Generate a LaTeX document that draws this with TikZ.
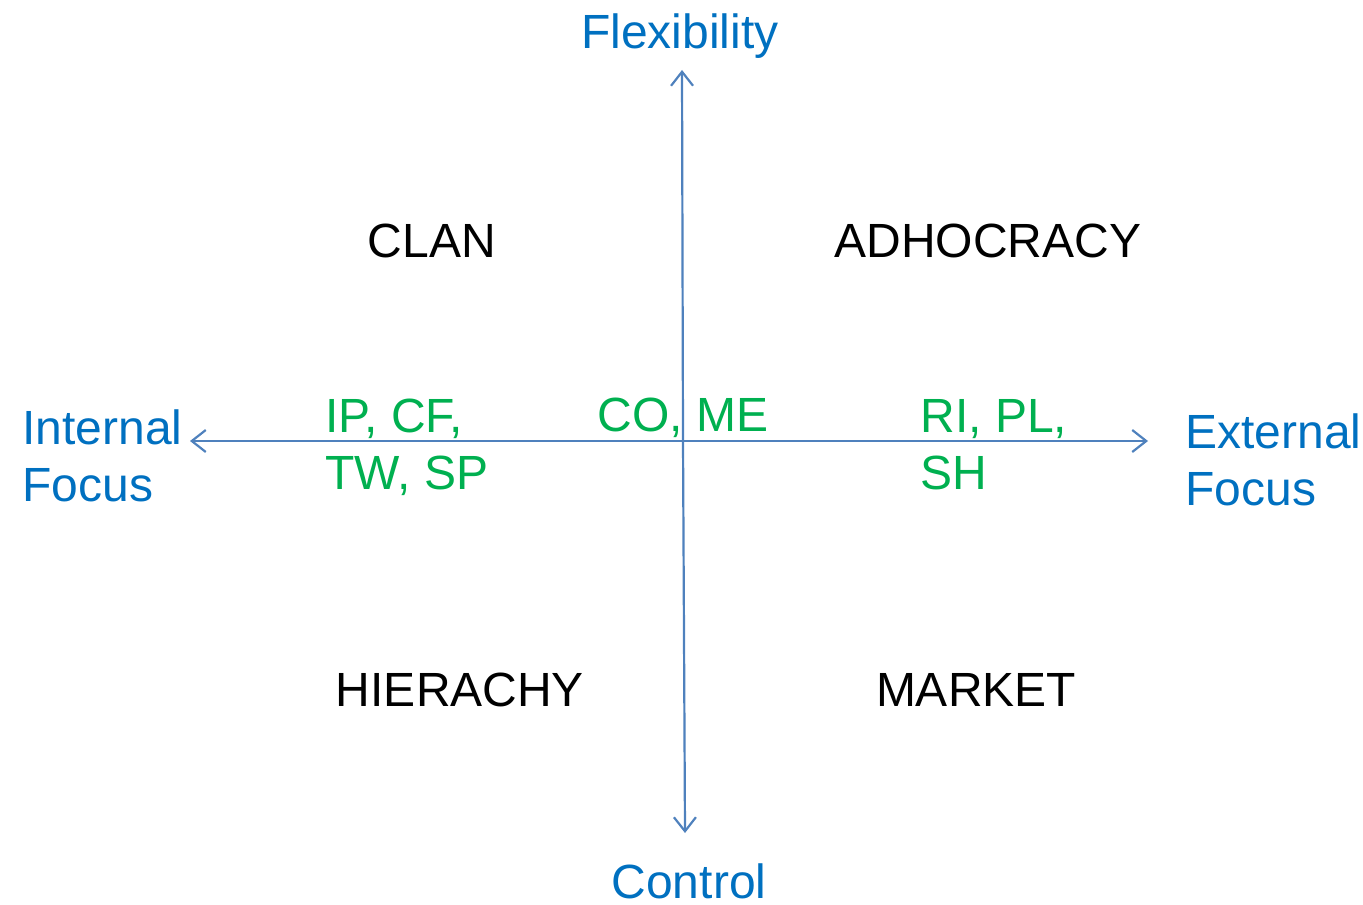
\documentclass[tikz,border=0pt]{standalone}
\usepackage{fontspec}
\setmainfont{Liberation Sans}
\usetikzlibrary{arrows.meta}
\definecolor{axisblue}{RGB}{79,129,189}
\definecolor{labelblue}{RGB}{0,112,192}
\definecolor{codegreen}{RGB}{0,176,80}
\begin{document}
\begin{tikzpicture}[x=0.5pt,y=-0.5pt,
    font=\fontsize{24}{28.5}\selectfont,
    axis/.style={axisblue, line width=1.1pt, -{Straight Barb[length=7pt,width=11pt]}},
    pole/.style={labelblue, inner sep=0pt, align=left},
    culture/.style={black, inner sep=0pt, anchor=base},
    codes/.style={codegreen, inner sep=0pt, align=left, anchor=base west}]
            \useasboundingbox (0,0) rectangle (1363,904);

            \coordinate (mid) at (683,441);
            \coordinate (top) at (682,70);
            \coordinate (bottom) at (685,833);
            \coordinate (left) at (190,441);
            \coordinate (right) at (1148,441);

            \draw[axis] (mid) -- (top);
            \draw[axis] (mid) -- (bottom);
            \draw[axis] (mid) -- (left);
            \draw[axis] (mid) -- (right);

            % base of a two-line node is the baseline of its last line
            \node[pole, anchor=base] (flex) at (680,49) {Flexibility};
            \node[pole, anchor=base, text depth=0pt] (ctrl) at (689,898) {Control};
            \node[pole, anchor=base west] (internal) at (22,501) {Internal\\Focus};
            \node[pole, anchor=base west] (external) at (1185,505) {External\\Focus};

            \node[culture] (clan) at (432,257) {CLAN};
            \node[culture] (adhoc) at (988,257) {ADHOCRACY};
            \node[culture] (hier) at (460,706) {HIERACHY};
            \node[culture] (market) at (976,706) {MARKET};

            \node[codes] (ipcf) at (325,489) {IP, CF,\\TW, SP};
            \node[codes] (come) at (597,431) {CO, ME};
            \node[codes] (ripl) at (920,489) {RI, PL,\\SH};
        \end{tikzpicture}
\end{document}
